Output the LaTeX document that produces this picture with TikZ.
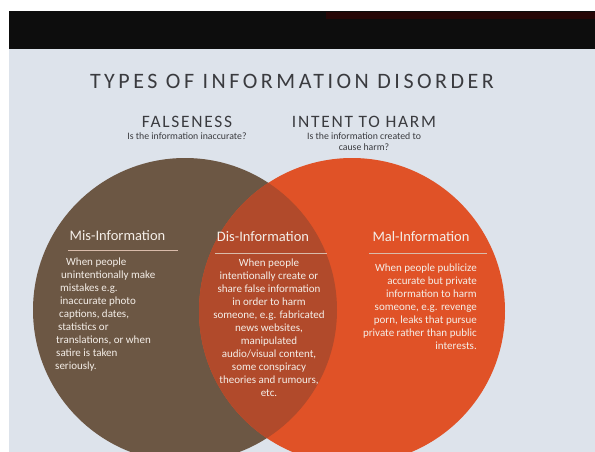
\documentclass[tikz,border=0pt]{standalone}
\usepackage{fontspec}
\setmainfont{Carlito}
\newfontfamily\titlefont[LetterSpace=16]{Carlito}
\newfontfamily\spacedfont[LetterSpace=10]{Carlito}
\usetikzlibrary{positioning}
\definecolor{slidebg}{HTML}{DDE3EB}
\definecolor{misbrown}{HTML}{6C5744}
\definecolor{malorange}{HTML}{E05227}
\definecolor{disred}{HTML}{B14A2B}
\definecolor{headgray}{HTML}{3A3B3F}
\definecolor{bodycream}{HTML}{F4EEE8}
\definecolor{rulelight}{HTML}{D9BBAA}
\definecolor{bandred}{HTML}{260707}

\begin{document}
\begin{tikzpicture}[x=1pt, y=-1pt,
    heading/.style={text=headgray, font=\spacedfont\fontsize{17.4}{18}\selectfont},
    question/.style={text=headgray, align=center, font=\fontsize{9.8}{11}\selectfont, inner sep=0pt},
    setname/.style={text=bodycream, font=\fontsize{14.5}{15}\selectfont},
    setbody/.style={text=bodycream, font=\fontsize{11}{13}\selectfont, inner sep=0pt},
    underrule/.style={draw=rulelight, line width=0.6pt}
]
\useasboundingbox (0,0) rectangle (595,452);
\clip (0,0) rectangle (595,452);

% Photo of the slide
\fill[white] (0,0) rectangle (595,452);
\fill[slidebg] (9,49) rectangle (595,452);
\fill[black!95] (9,11) rectangle (595,49);
\fill[bandred] (326,12) rectangle (595,19);

% Venn circles
\fill[misbrown] (185,310) circle [radius=152];
\fill[malorange] (352,311) circle [radius=153];
\begin{scope}
    \clip (185,310) circle [radius=152];
    \fill[disred] (352,311) circle [radius=153];
\end{scope}

% Titles
\node[text=headgray, font=\titlefont\fontsize{22}{22}\selectfont] (title) at (292,81) {TYPES OF INFORMATION DISORDER};
\node[heading] (falseness) at (187,121.5) {FALSENESS};
\node[heading] (intent) at (364,121.5) {INTENT TO HARM};
\node[question, below=2pt of falseness] (falseq) {Is the information inaccurate?};
\node[question, below=2pt of intent] (intentq) {Is the information created to\\cause harm?};

% Set names and rules
\node[setname] (misname) at (117.5,236) {Mis-Information};
\node[setname] (disname) at (263,237) {Dis-Information};
\node[setname] (malname) at (421,237) {Mal-Information};
\coordinate (misrule-l) at (68,250);
\coordinate (misrule-r) at (178,250);
\coordinate (disrule-l) at (215,253);
\coordinate (disrule-r) at (327,253);
\coordinate (malrule-l) at (369,253);
\coordinate (malrule-r) at (487,253);
\draw[underrule] (misrule-l) -- (misrule-r);
\draw[underrule] (disrule-l) -- (disrule-r);
\draw[underrule] (malrule-l) -- (malrule-r);

% Set texts
\node[setbody, align=left, anchor=west] (misbody) at (55,315) {%
    \hspace*{11pt}When people\\
    \hspace*{6pt}unintentionally make\\
    \hspace*{5pt}mistakes e.g.\\
    \hspace*{5pt}inaccurate photo\\
    \hspace*{4pt}captions,\ dates,\\
    \hspace*{3pt}statistics or\\
    \hspace*{1pt}translations, or when\\
    \hspace*{1pt}satire is taken\\
    seriously.};
\node[setbody, align=center] (disbody) at (269,327.5) {When people\\
    intentionally create or\\
    share false information\\
    in order to harm\\
    someone, e.g. fabricated\\
    news websites,\\
    manipulated\\
    audio/visual content,\\
    some conspiracy\\
    theories and rumours,\\
    etc.};
\node[setbody, align=right, anchor=east] (malbody) at (477,307) {When people publicize\\
    accurate but private\\
    information to harm\\
    someone, e.g. revenge\\
    porn, leaks that pursue\\
    private rather than public\\
    interests.};

\end{tikzpicture}
\end{document}
